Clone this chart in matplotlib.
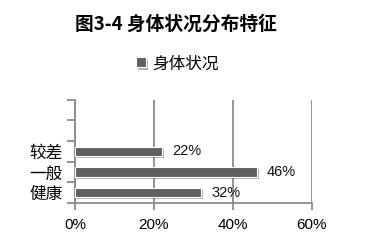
import numpy as np
import matplotlib.pyplot as plt
import matplotlib.patheffects as pe

plt.rcParams['font.family'] = ['Noto Sans CJK SC', 'DejaVu Sans']

categories = ['健康', '一般', '较差']
values = [32, 46, 22]
labels = ['32%', '46%', '22%']
xticks = [0, 20, 40, 60]
n_slots = 5

bar_color = '#606060'
grid_color = '#8a8a8a'

fig = plt.figure(figsize=(3.66, 2.41), dpi=100)
ax = fig.add_axes([0.205, 0.158, 0.647, 0.428])

ypos = np.arange(len(categories))
bars = ax.barh(ypos, values, height=0.45, color=bar_color, edgecolor='white',
               linewidth=0.8, label='身体状况', zorder=3)
for b in bars:
    b.set_path_effects([pe.SimplePatchShadow(offset=(1.5, -1.5), alpha=0.35), pe.Normal()])

for y, v, t in zip(ypos, values, labels):
    ax.text(v + 2.6, y, t, va='center', ha='left', fontsize=10.5,
            family=['Liberation Sans', 'DejaVu Sans'], color='#111111')

ax.set_xlim(0, 60)
ax.set_ylim(-0.5, n_slots - 0.5)
ax.set_xticks(xticks)
ax.set_xticklabels([f'{x}%' for x in xticks], fontsize=11,
                   family=['Liberation Sans', 'DejaVu Sans'])
ax.set_yticks(np.arange(n_slots + 1) - 0.5)
ax.set_yticklabels([])
ax.set_yticks(ypos, minor=True)
ax.set_yticklabels(categories, minor=True, fontsize=12)
ax.tick_params(axis='y', which='minor', length=0, pad=9)
ax.tick_params(axis='y', which='major', length=6, width=1.3, color=grid_color)
ax.tick_params(axis='x', length=5, width=1.3, color=grid_color, pad=6)

ax.xaxis.grid(True, color=grid_color, linewidth=1.3, zorder=0)
for s in ['top', 'right']:
    ax.spines[s].set_visible(False)
for s in ['left', 'bottom']:
    ax.spines[s].set_color(grid_color)
    ax.spines[s].set_linewidth(1.3)

fig.text(0.48, 0.9, '图3-4 身体状况分布特征', ha='center', va='center',
         fontsize=13.5, fontweight='bold')
fig.legend(loc='center', bbox_to_anchor=(0.485, 0.735), frameon=False,
           fontsize=12, handlelength=0.55, handleheight=0.55, handletextpad=0.4)

fig.savefig('out.png', dpi=100)
